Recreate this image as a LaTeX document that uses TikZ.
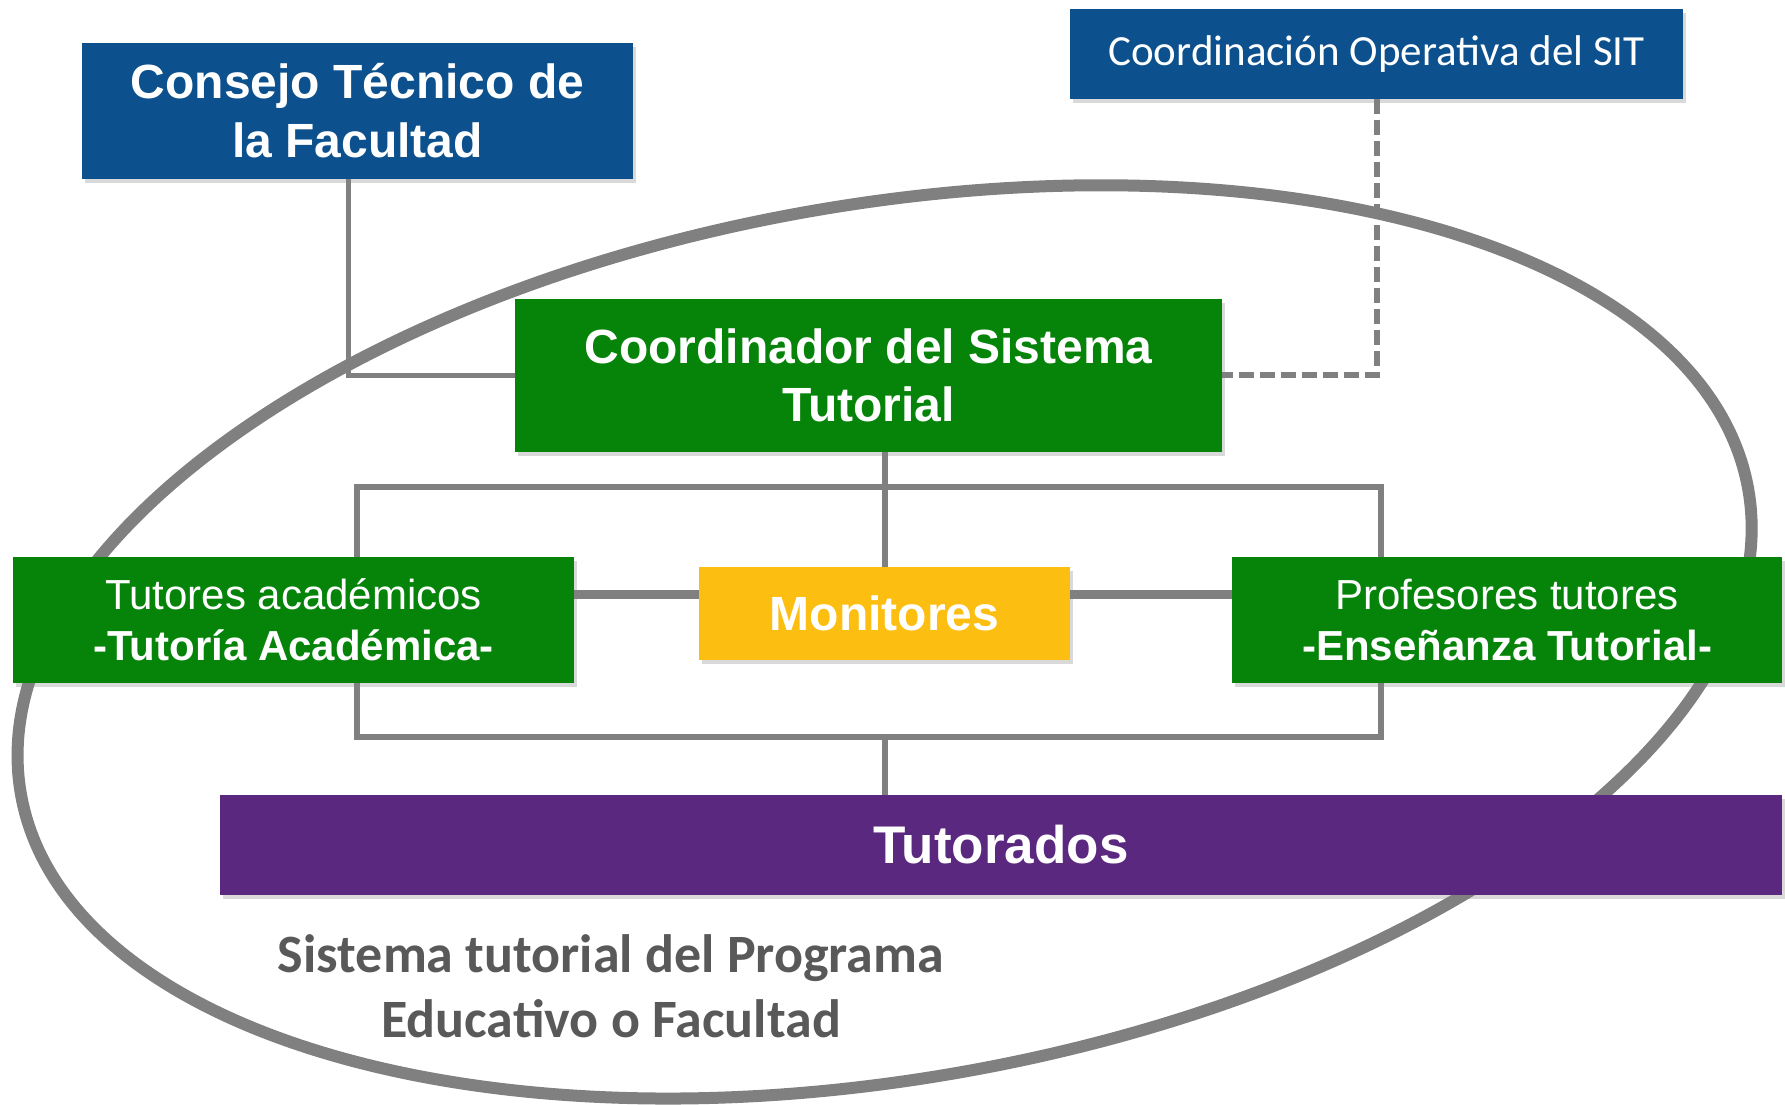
\documentclass[tikz,border=0pt]{standalone}
\usepackage{fontspec}
\setmainfont{Liberation Sans}
\newfontfamily\calib{Carlito}
\usepackage{xcolor}
\usepackage{tikz}
\usetikzlibrary{shadows}

\definecolor{sitblue}{RGB}{12,80,141}
\definecolor{sitgreen}{RGB}{6,132,10}
\definecolor{sitgold}{RGB}{253,190,18}
\definecolor{sitpurple}{RGB}{90,40,126}
\definecolor{sitgray}{RGB}{128,128,128}
\definecolor{capgray}{RGB}{89,89,89}

\begin{document}
\begin{tikzpicture}[x=1pt, y=1pt,
    box/.style={rectangle, inner sep=0pt, text=white, align=center,
      drop shadow={shadow xshift=3pt, shadow yshift=-4pt, opacity=0.3}},
    link/.style={draw=sitgray, line width=6pt}]
  \useasboundingbox (0,0) rectangle (1785,1104);

  % el sistema tutorial
  \coordinate (sys) at (884.5,462);
  \draw[sitgray, line width=12pt, rotate around={10:(sys)}] (sys) ellipse [x radius=877, y radius=437];

  \node[box, fill=sitblue, minimum width=551, minimum height=136, font=\bfseries\fontsize{48}{59}\selectfont] (consejo) at (357.5,993) {Consejo Técnico de\\la Facultad};
  \node[box, fill=sitblue, minimum width=613, minimum height=90, font=\calib\fontsize{43}{50}\selectfont] (coordop) at (1376.5,1050) {Coordinación Operativa del SIT};
  \node[box, fill=sitgreen, minimum width=707, minimum height=153, font=\bfseries\fontsize{48}{58}\selectfont] (coord) at (868.5,728.5) {Coordinador del Sistema\\Tutorial};
  \node[box, fill=sitgreen, minimum width=561, minimum height=126, font=\fontsize{42}{51}\selectfont] (tut) at (293.5,484) {Tutores académicos\\\textbf{-Tutoría Académica-}};
  \node[box, fill=sitgold, minimum width=371, minimum height=93, font=\bfseries\fontsize{48}{58}\selectfont] (mon) at (884.5,490.5) {Monitores};
  \node[box, fill=sitgreen, minimum width=550, minimum height=126, font=\fontsize{42}{51}\selectfont] (prof) at (1507,484) {Profesores tutores\\\textbf{-Enseñanza Tutorial-}};
  \node[box, fill=sitpurple, minimum width=1562, minimum height=100, font=\bfseries\fontsize{53}{60}\selectfont] (tdos) at (1001,259) {Tutorados};

  \node[font=\calib\bfseries\fontsize{54}{65}\selectfont, text=capgray, align=center] (cap) at (611,117.5) {Sistema tutorial del Programa\\Educativo o Facultad};

  % conectores
  \coordinate (barTL) at (357,617);
  \coordinate (barTR) at (1381,617);
  \coordinate (barBL) at (357,367);
  \coordinate (barBR) at (1381,367);

  \draw[link, line width=5pt] ([xshift=-9pt]consejo.south) |- (coord.west);
  \draw[link, dash pattern=on 15pt off 6pt] (coordop.south) |- (coord.east);
  \draw[link] (coord.south -| mon) -- (mon.north);
  \draw[link] (barTL |- tut.north) -- (barTL) -- (barTR) -- (barTR |- prof.north);
  \draw[link] (barBL |- tut.south) -- (barBL) -- (barBR) -- (barBR |- prof.south);
  \draw[link] (barBL -| mon) -- (tdos.north -| mon);
  \draw[link, line width=9pt] ([yshift=18.5pt]mon.west) -- ([yshift=18.5pt]mon.west -| tut.east);
  \draw[link, line width=9pt] ([yshift=18.5pt]mon.east) -- ([yshift=18.5pt]mon.east -| prof.west);
\end{tikzpicture}
\end{document}
